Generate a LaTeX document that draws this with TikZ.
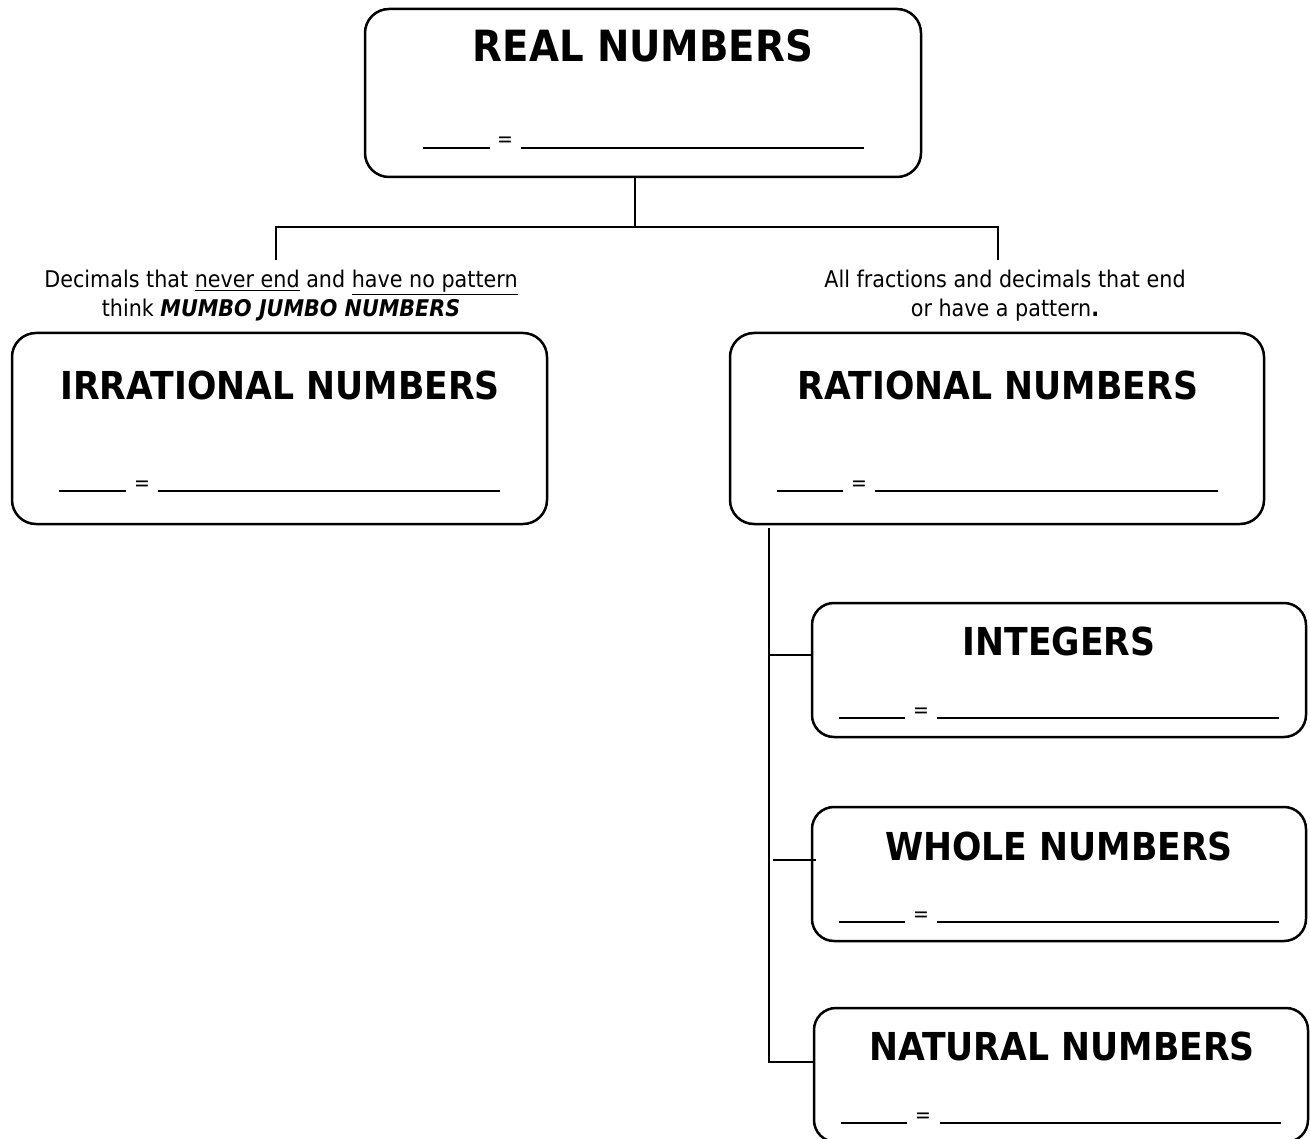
\documentclass[tikz,border=0pt]{standalone}
\usepackage{fontspec}
\setmainfont{DejaVu Sans}[FakeStretch=0.9]
\begin{document}
\begin{tikzpicture}[x=1pt,y=-1pt,
  box/.style={draw, line width=2.5pt, rounded corners=24pt, inner sep=0pt},
  bigtitle/.style={font=\fontsize{43}{48}\selectfont\bfseries, inner sep=0pt, anchor=base},
  title/.style={font=\fontsize{38.5}{44}\selectfont\bfseries, inner sep=0pt, anchor=base},
  caption/.style={font=\fontsize{23}{29}\selectfont, align=center, inner sep=0pt, anchor=base},
  eq/.style={font=\fontsize{21}{24}\selectfont, inner sep=0pt, anchor=base},
  blank/.style={line width=2pt},
  conn/.style={line width=2.3pt}]
\clip (0,0) rectangle (1310,1139);
\fill[white] (0,0) rectangle (1310,1139);

% boxes
\node[box, minimum width=556pt, minimum height=168pt] (real) at (643,93) {};
\node[box, minimum width=535pt, minimum height=191pt] (irr) at (279.5,428.5) {};
\node[box, minimum width=534pt, minimum height=191pt] (rat) at (997,428.5) {};
\node[box, minimum width=494pt, minimum height=134pt, rounded corners=22pt] (int) at (1059,670) {};
\node[box, minimum width=494pt, minimum height=134pt, rounded corners=22pt] (whole) at (1059,874) {};
\node[box, minimum width=494pt, minimum height=134pt, rounded corners=22pt] (nat) at (1061,1075) {};

% titles
\node[bigtitle] (realt) at (643,62) {REAL NUMBERS};
\node[title] (irrt) at (280,400) {IRRATIONAL NUMBERS};
\node[title] (ratt) at (998,400) {RATIONAL NUMBERS};
\node[title] (intt) at (1059,655) {INTEGERS};
\node[title] (wholet) at (1059,860) {WHOLE NUMBERS};
\node[title] (natt) at (1062,1060) {NATURAL NUMBERS};

% captions
\node[caption] (irrcap) at (281,317) {Decimals that \underline{never end} and \underline{have no pattern}\\think \textbf{\itshape MUMBO JUMBO NUMBERS}};
\node[caption] (ratcap) at (1005,317) {All fractions and decimals that end\\or have a pattern\textbf{.}};

% blanks
\draw[blank] (423,148) -- (490,148) (521,148) -- (864,148);
\node[eq] (eqreal) at (505,147) {=};
\draw[blank] (59,491) -- (126,491) (158,491) -- (500,491);
\node[eq] (eqirr) at (142,490) {=};
\draw[blank] (777,491) -- (843,491) (875,491) -- (1218,491);
\node[eq] (eqrat) at (859,490) {=};
\draw[blank] (839,718) -- (905,718) (937,718) -- (1279,718);
\node[eq] (eqint) at (921,717) {=};
\draw[blank] (839,922) -- (905,922) (937,922) -- (1279,922);
\node[eq] (eqwhole) at (921,921) {=};
\draw[blank] (841,1123) -- (907,1123) (940,1123) -- (1281,1123);
\node[eq] (eqnat) at (923,1122) {=};

% connectors
\coordinate (hub) at (635,227);
\coordinate (lend) at (276,260);
\coordinate (rend) at (998,260);
\draw[conn] (real.south -| hub) -- (hub);
\draw[conn] (lend) |- (hub) -| (rend);
\coordinate (vtop) at (769,528);
\coordinate (vbot) at (769,1062);
\draw[conn] (vtop) -- (vbot) -- (vbot -| nat.west);
\draw[conn] (769,655) -- (769,655 -| int.west);
\draw[conn] (773,860) -- (816,860);
\end{tikzpicture}
\end{document}
